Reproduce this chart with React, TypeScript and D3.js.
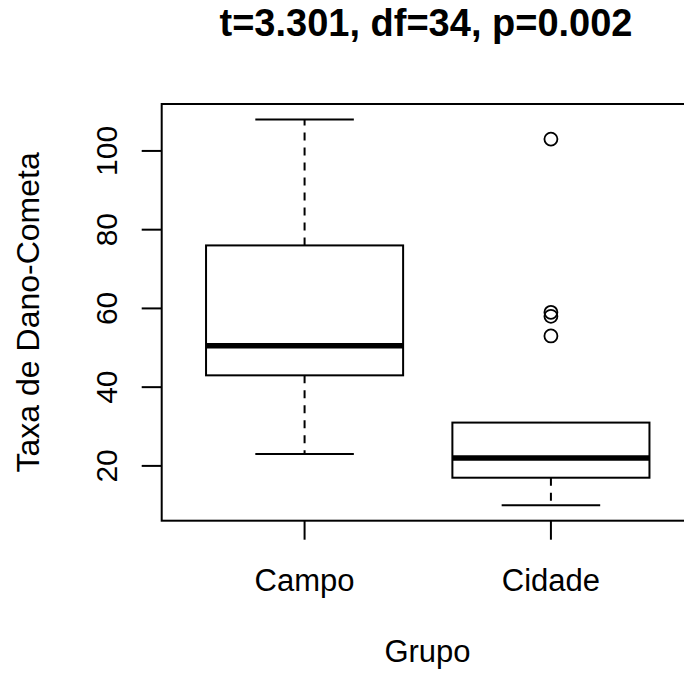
import * as d3 from 'd3';
import React from 'react';

const groups = ['Campo', 'Cidade'];
const whiskerLow = [23, 10];
const boxLow = [43, 17];
const medians = [50.5, 22];
const boxHigh = [76, 31];
const whiskerHigh = [108, 16];
const outliersCampo: number[] = [];
const outliersCidade = [103, 59, 58, 53];
const yTicks = [20, 40, 60, 80, 100];

const titleText = 't=3.301, df=34, p=0.002';
const xLabel = 'Grupo';
const yLabel = 'Taxa de Dano-Cometa';

const W = 684;
const H = 673;
const font = '"Liberation Sans", Arial, sans-serif';

export default function App() {
  const outliers = [outliersCampo, outliersCidade];
  // R-style extended ranges (4% each side)
  const x = d3.scaleLinear().domain([0.42, 2.58]).range([161.7, 693.8]);
  const y = d3.scaleLinear().domain([6.08, 111.92]).range([520.7, 104]);
  const boxW = 0.8;

  return (
    <svg width={W} height={H} style={{ position: 'absolute', left: 0, top: 0, background: '#fff' }}>
      <rect x={0} y={0} width={W} height={H} fill="#fff" />
      <text x={426} y={36} textAnchor="middle" fontFamily={font} fontWeight="bold" fontSize={38}>
        {titleText}
      </text>

      {/* plot box */}
      <rect x={x(0.42)} y={y(111.92)} width={x(2.58) - x(0.42)} height={y(6.08) - y(111.92)}
        fill="none" stroke="#000" strokeWidth={2} />

      {/* y axis */}
      {yTicks.map(t => (
        <g key={t}>
          <line x1={x(0.42) - 20} x2={x(0.42)} y1={y(t)} y2={y(t)} stroke="#000" strokeWidth={2} />
          <text transform={`translate(116.5,${y(t)}) rotate(-90)`} textAnchor="middle"
            fontFamily={font} fontSize={30}>{t}</text>
        </g>
      ))}
      <text transform={`translate(38.5,${(y(6.08) + y(111.92)) / 2}) rotate(-90)`} textAnchor="middle"
        fontFamily={font} fontSize={32}>{yLabel}</text>

      {/* x axis */}
      {groups.map((g, i) => (
        <g key={g}>
          <line x1={x(i + 1)} x2={x(i + 1)} y1={y(6.08)} y2={y(6.08) + 19} stroke="#000" strokeWidth={2} />
          <text x={x(i + 1)} y={591} textAnchor="middle" fontFamily={font} fontSize={31}>{g}</text>
        </g>
      ))}
      <text x={427.5} y={662} textAnchor="middle" fontFamily={font} fontSize={31}>{xLabel}</text>

      {/* boxes */}
      {groups.map((g, i) => {
        const cx = x(i + 1);
        const half = (x(i + 1 + boxW / 2) - x(i + 1 - boxW / 2)) / 2;
        return (
          <g key={g}>
            <line x1={cx} x2={cx} y1={y(boxHigh[i])} y2={y(whiskerHigh[i] > boxHigh[i] ? whiskerHigh[i] : boxHigh[i])}
              stroke="#000" strokeWidth={2} strokeDasharray="8,7" />
            <line x1={cx} x2={cx} y1={y(boxLow[i])} y2={y(whiskerLow[i])}
              stroke="#000" strokeWidth={2} strokeDasharray="8,7" />
            {whiskerHigh[i] > boxHigh[i] && (
              <line x1={cx - half / 2} x2={cx + half / 2} y1={y(whiskerHigh[i])} y2={y(whiskerHigh[i])}
                stroke="#000" strokeWidth={2} />
            )}
            <line x1={cx - half / 2} x2={cx + half / 2} y1={y(whiskerLow[i])} y2={y(whiskerLow[i])}
              stroke="#000" strokeWidth={2} />
            <rect x={cx - half} y={y(boxHigh[i])} width={half * 2} height={y(boxLow[i]) - y(boxHigh[i])}
              fill="#fff" stroke="#000" strokeWidth={2} />
            <line x1={cx - half} x2={cx + half} y1={y(medians[i])} y2={y(medians[i])}
              stroke="#000" strokeWidth={5.5} />
            {outliers[i].map((v, j) => (
              <circle key={j} cx={cx} cy={y(v)} r={6.5} fill="none" stroke="#000" strokeWidth={1.8} />
            ))}
          </g>
        );
      })}
    </svg>
  );
}
